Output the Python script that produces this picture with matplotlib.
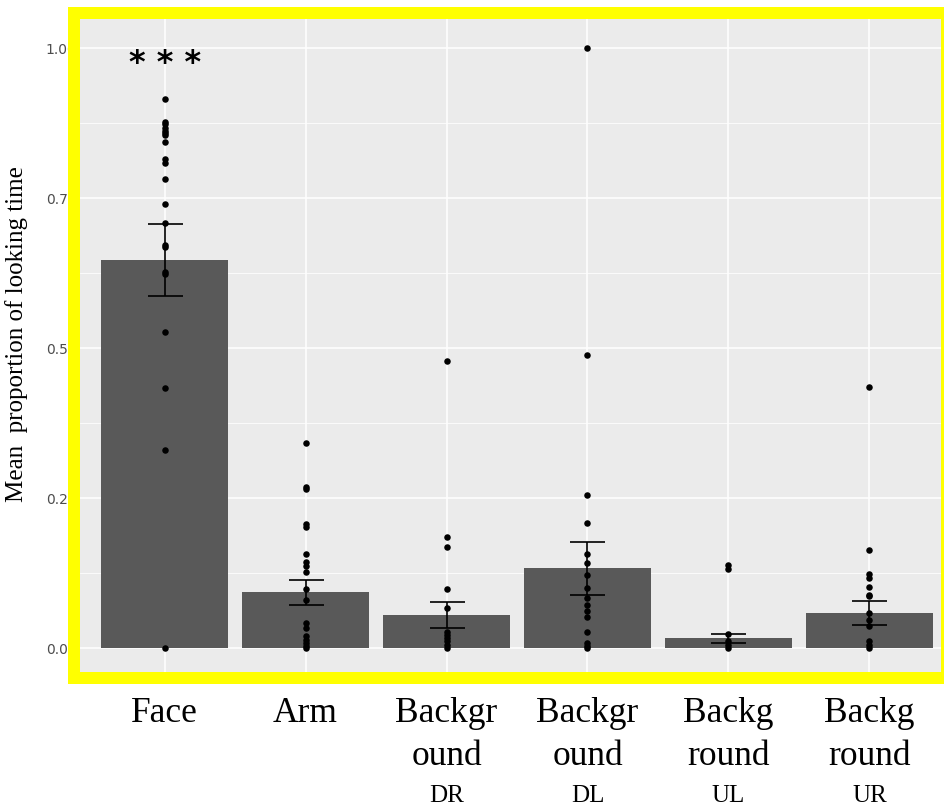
import matplotlib
matplotlib.use("Agg")
import matplotlib.pyplot as plt
import matplotlib.transforms as mtransforms
from matplotlib.patches import Rectangle

# bar heights and standard errors
categories = ["Face", "Arm", "Background DR", "Background DL", "Background UL", "Background UR"]
means = [0.647, 0.093, 0.055, 0.133, 0.016, 0.058]
se = [0.060, 0.021, 0.022, 0.044, 0.0075, 0.020]

# individual proportions (one dot per participant)
face_pts = [0.915, 0.877, 0.873, 0.867, 0.862, 0.858, 0.855, 0.844, 0.815, 0.808, 0.782,
            0.740, 0.709, 0.672, 0.668, 0.627, 0.623, 0.527, 0.433, 0.330, 0.0]
arm_pts = [0.342, 0.269, 0.265, 0.207, 0.202, 0.156, 0.143, 0.137, 0.127, 0.098, 0.080,
           0.041, 0.033, 0.020, 0.013, 0.008, 0.003, 0.0]
dr_pts = [0.478, 0.185, 0.168, 0.098, 0.067, 0.026, 0.022, 0.016, 0.011, 0.005, 0.0]
dl_pts = [1.0, 0.488, 0.255, 0.209, 0.157, 0.142, 0.122, 0.100, 0.084, 0.071, 0.062,
          0.051, 0.026, 0.009, 0.003, 0.0]
ul_pts = [0.139, 0.131, 0.024, 0.012, 0.005, 0.0]
ur_pts = [0.435, 0.164, 0.124, 0.117, 0.102, 0.089, 0.086, 0.058, 0.046, 0.036, 0.011,
          0.005, 0.0]
points = [face_pts, arm_pts, dr_pts, dl_pts, ul_pts, ur_pts]

# x tick labels, broken the way the original shows them
label_line1 = ["Face", "Arm", "Backgr", "Backgr", "Backg", "Backg"]
label_line2 = ["", "", "ound", "ound", "round", "round"]
label_line3 = ["", "", "DR", "DL", "UL", "UR"]
yticks = [0.0, 0.25, 0.5, 0.75, 1.0]
ytick_labels = ["0.00", "0.25", "0.50", "0.75", "1.00"]

W, H = 945, 807
fig = plt.figure(figsize=(W / 100, H / 100), dpi=100)
ax = fig.add_axes([80 / W, 1 - 678 / H, 874 / W, 660 / H])
ax.set_facecolor("#EBEBEB")

xs = list(range(1, len(categories) + 1))
ax.bar(xs, means, width=0.9, color="#595959", zorder=2)
for x, pts in zip(xs, points):
    ax.scatter([x] * len(pts), pts, s=22, color="black", zorder=3, linewidths=0)
ax.errorbar(xs, means, yerr=se, fmt="none", ecolor="black", elinewidth=1.2,
            capsize=12.6, capthick=1.2, zorder=4)

ax.set_xlim(0.4, 6.6)
ax.set_ylim(-0.05, 1.05)
ax.set_yticks(yticks)
ax.set_yticklabels(ytick_labels)
ax.set_yticks([0.125, 0.375, 0.625, 0.875], minor=True)
ax.set_xticks(xs)
ax.set_xticklabels([])
ax.grid(which="major", color="white", linewidth=1.1, zorder=0)
ax.grid(which="minor", axis="y", color="white", linewidth=0.55, zorder=0)
ax.set_axisbelow(True)
ax.tick_params(axis="both", which="both", length=0)
ax.tick_params(axis="y", pad=2.5, labelsize=10, labelcolor="#4D4D4D")
for s in ax.spines.values():
    s.set_visible(False)

ax.text(1, 0.975, "* * *", ha="center", va="center", fontsize=23,
        fontweight="bold", family="DejaVu Sans", zorder=5)

serif = "Liberation Serif"
trans = mtransforms.blended_transform_factory(ax.transData, fig.transFigure)
for x, a, b, c in zip(xs, label_line1, label_line2, label_line3):
    ax.text(x, 1 - 722 / H, a, transform=trans, ha="center", va="baseline",
            family=serif, fontsize=25.5, clip_on=False)
    if b:
        ax.text(x, 1 - 765 / H, b, transform=trans, ha="center", va="baseline",
                family=serif, fontsize=25.5, clip_on=False)
    if c:
        ax.text(x, 1 - 802 / H, c, transform=trans, ha="center", va="baseline",
                family=serif, fontsize=18, clip_on=False)

fig.text(17 / W, 1 - 334 / H, "Mean  proportion of looking time", rotation=90,
         ha="center", va="center", family=serif, fontsize=18)

# yellow frame drawn over the panel, as four bands (pixel boxes: x0, y0, x1, y1)
bands = [(68, 6.5, 945, 19), (68, 6.5, 80.5, 684), (68, 672, 945, 684), (941, 6.5, 945, 684)]
for x0, y0, x1, y1 in bands:
    fig.add_artist(Rectangle((x0 / W, 1 - y1 / H), (x1 - x0) / W, (y1 - y0) / H,
                             transform=fig.transFigure, facecolor="#FFFF00",
                             edgecolor="none", zorder=10))

fig.savefig("out.png", dpi=100)
